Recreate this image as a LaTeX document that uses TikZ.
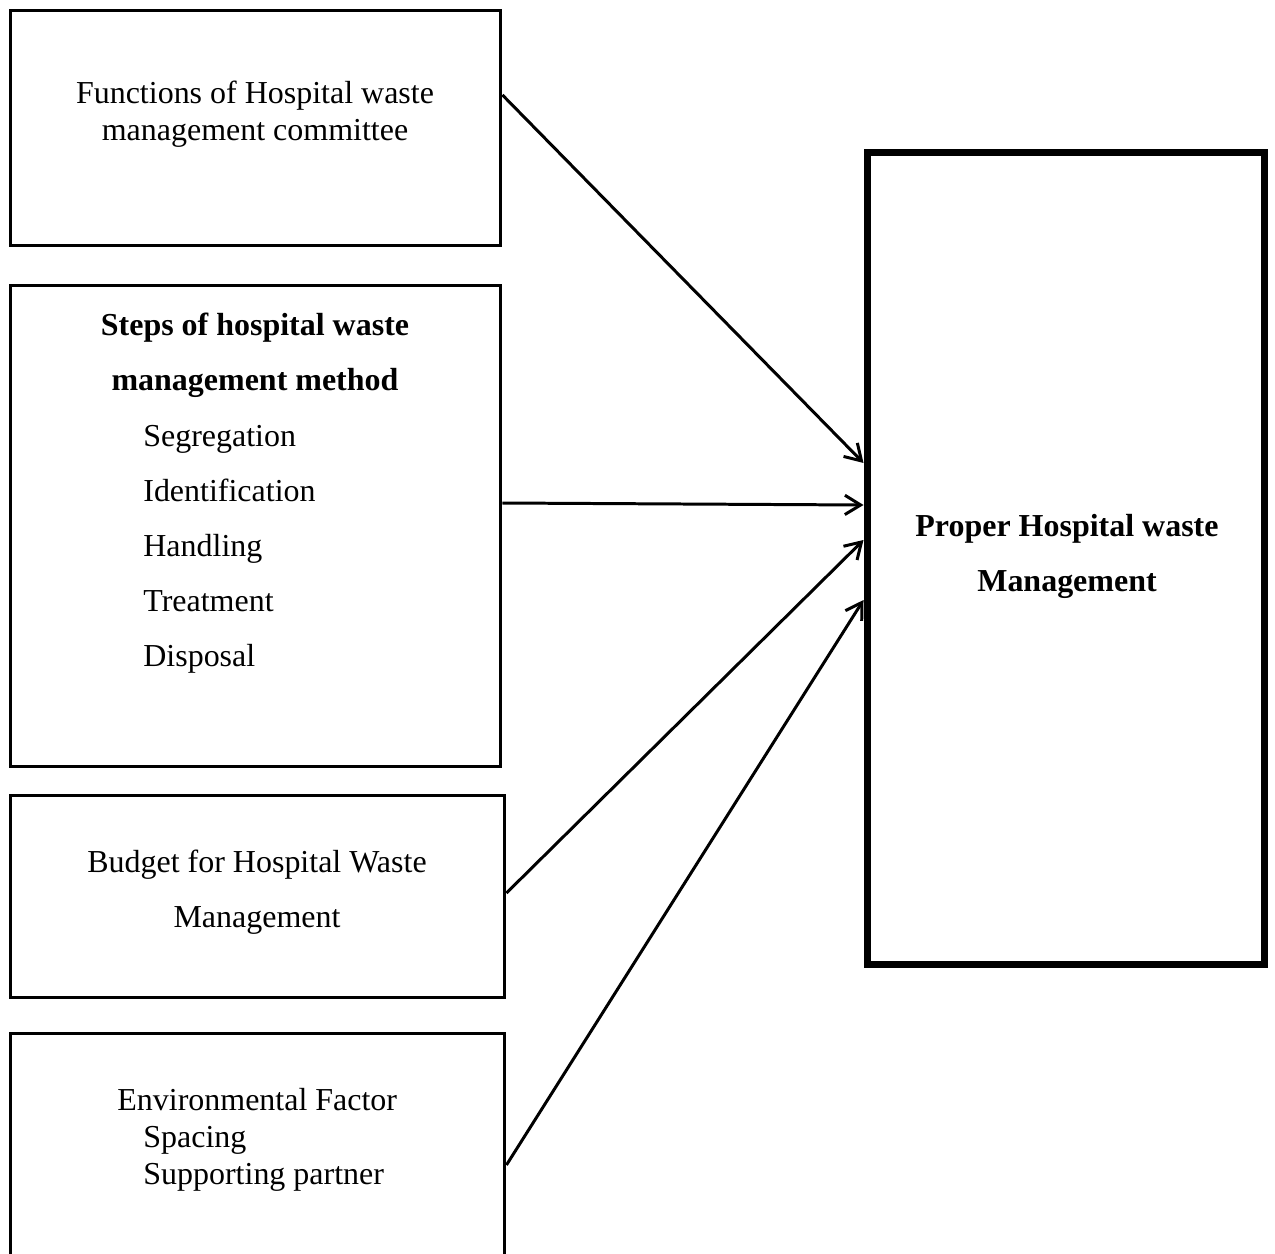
\documentclass[tikz,border=0pt]{standalone}
\usepackage{fontspec}
\setmainfont{Liberation Serif}
\usetikzlibrary{arrows.meta}
\tikzset{
  box/.style={draw, rectangle, line width=1.7pt, minimum width=9.82cm},
  mainbox/.style={draw, rectangle, line width=4pt, minimum width=7.96cm, minimum height=16.26cm},
  txt/.style={font=\fontsize{18.2}{21}\selectfont, inner sep=0pt},
  wide/.style={font=\fontsize{18.2}{31.3}\selectfont, inner sep=0pt},
  arr/.style={-{Straight Barb[length=9pt,width=11pt]}, line width=1.7pt},
}
\begin{document}
\begin{tikzpicture}[x=0.02cm,y=-0.02cm]
  \useasboundingbox (0,0) rectangle (1275,1254);
  \clip (0,0) rectangle (1275,1254);
  % boxes on the left
  \node (fun) at (255.5,128) [box, minimum height=4.72cm] {};
  \node (steps) at (255.5,526) [box, minimum height=9.64cm] {};
  \node (budget) at (257.5,896.5) [box, minimum width=9.9cm, minimum height=4.06cm] {};
  \node (env) at (257.5,1166.5) [box, minimum width=9.9cm, minimum height=5.34cm] {};
  % box on the right
  \node (proper) at (1066,558.5) [mainbox] {};
  % texts
  \node (funT) at (255,114.5) [txt, align=center] {Functions of Hospital waste\\management committee};
  \node (stepsT) at (255,355) [wide, align=center] {\bfseries Steps of hospital waste\\\bfseries management method};
  \node (stepsL) at (143,549.5) [wide, anchor=west, align=left] {Segregation\\Identification\\Handling\\Treatment\\Disposal};
  \node (budgetT) at (257,892.5) [wide, align=center] {Budget for Hospital Waste\\Management};
  \node (envT) at (117,1140) [txt, anchor=west, align=left] {Environmental Factor\\\hspace*{0.52cm}Spacing\\\hspace*{0.52cm}Supporting partner};
  \node (properT) at (1067,556.5) [wide, align=center] {\bfseries Proper Hospital waste\\\bfseries Management};
  % arrows
  \draw
  (fun.east |- 0,95) edge[arr] (proper.west |- 0,463)
  (steps.east |- 0,503) edge[arr] (proper.west |- 0,505)
  (budget.east |- 0,893) edge[arr] (proper.west |- 0,540)
  (env.east |- 0,1165) edge[arr] (proper.west |- 0,600)
  ;
\end{tikzpicture}
\end{document}
